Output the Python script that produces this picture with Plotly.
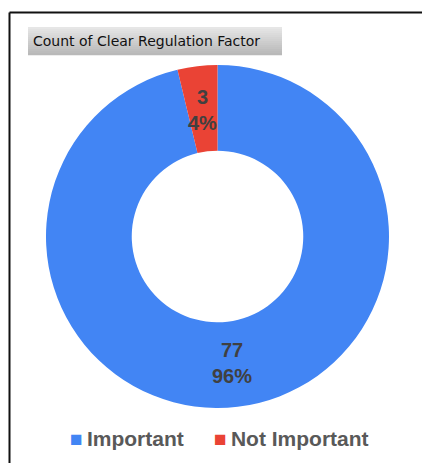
import math
import plotly.graph_objects as go

categories = ["Important", "Not Important"]
counts = [77, 3]
colors = ["#4285F4", "#EA4335"]
title_text = "Count of Clear Regulation Factor"

W, H = 422, 463
ml, mr, mt, mb = 46, 33, 65, 55
pw, ph = W - ml - mr, H - mt - mb


def px_x(px):
    return (px - ml) / pw


def px_y(py):
    return (H - mb - py) / ph


fig = go.Figure(go.Pie(
    labels=categories,
    values=counts,
    hole=0.5,
    sort=False,
    direction="clockwise",
    rotation=0,
    marker=dict(colors=colors, line=dict(width=0)),
    textinfo="none",
    hoverinfo="label+value+percent",
    showlegend=False,
))

# data labels at ring midpoint, computed from the data
total = sum(counts)
R = 170
r_lab = 0.75 * R
cx, cy = ml + pw / 2, mt + ph / 2
cum = 0
annotations = []
for cat, v in zip(categories, counts):
    mid = (cum + v / 2) / total * 2 * math.pi
    cum += v
    x_pix = cx + r_lab * math.sin(mid)
    y_pix = cy - r_lab * math.cos(mid)
    pct = round(v / total * 100)
    annotations.append(dict(
        x=px_x(x_pix), y=px_y(y_pix), xref="paper", yref="paper",
        text=f"<b>{v}<br>{pct}%</b>", showarrow=False,
        font=dict(family="Liberation Sans, Arial", size=20, color="#404040"),
        xanchor="center", yanchor="middle", align="center",
    ))

annotations.append(dict(
    x=px_x(31), y=px_y(41), xref="paper", yref="paper",
    text=title_text, showarrow=False, xanchor="left", yanchor="middle",
    font=dict(family="DejaVu Sans", size=14, color="#111111"),
))

# legend drawn as text items
legend_starts = [68, 212]
for cat, col, x0 in zip(categories, colors, legend_starts):
    annotations.append(dict(
        x=px_x(x0), y=px_y(438), xref="paper", yref="paper",
        text=f"<span style='color:{col};font-size:21px'>■</span>&#8201;<b>{cat}</b>",
        showarrow=False, xanchor="left", yanchor="middle",
        font=dict(family="Liberation Sans, Arial", size=21, color="#595959"),
    ))

shapes = []
# gradient title box
top, bot = 27, 55
n = 14
for i in range(n):
    y0 = top + (bot - top) * i / n
    y1 = top + (bot - top) * (i + 1) / n
    g = int(230 - (230 - 185) * i / (n - 1))
    shapes.append(dict(type="rect", xref="paper", yref="paper",
                       x0=px_x(28), x1=px_x(282), y0=px_y(y0), y1=px_y(y1 + 0.3),
                       fillcolor=f"rgb({g},{g},{g})", line=dict(width=0), layer="below"))
# border lines (top and left)
shapes.append(dict(type="line", xref="paper", yref="paper",
                   x0=px_x(9.5), x1=px_x(430), y0=px_y(12.5), y1=px_y(12.5),
                   line=dict(color="#111111", width=2)))
shapes.append(dict(type="line", xref="paper", yref="paper",
                   x0=px_x(9.5), x1=px_x(9.5), y0=px_y(12.5), y1=px_y(470),
                   line=dict(color="#111111", width=2)))

fig.update_layout(
    width=W, height=H,
    margin=dict(l=ml, r=mr, t=mt, b=mb),
    paper_bgcolor="white", plot_bgcolor="white",
    annotations=annotations,
    shapes=shapes,
    showlegend=False,
)

fig.write_html("out.html")
